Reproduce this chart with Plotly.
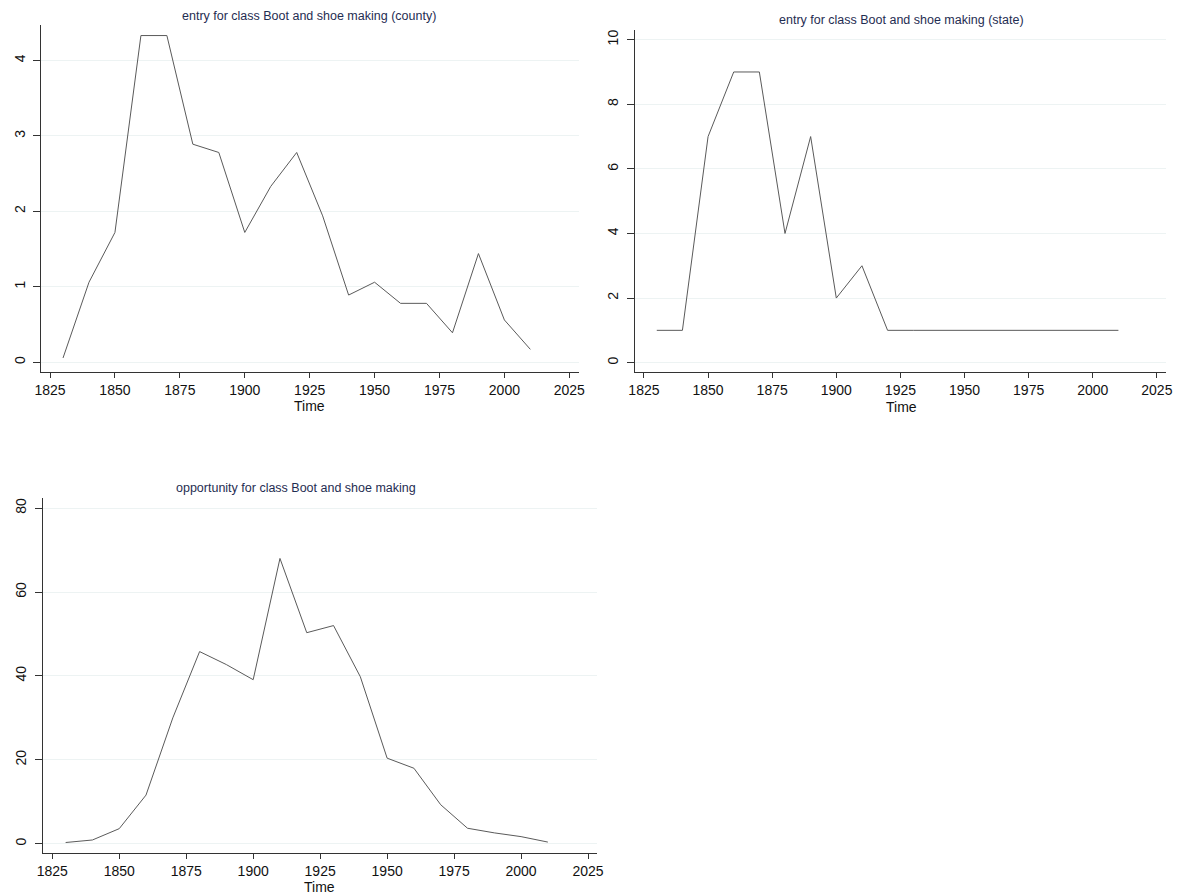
import plotly.graph_objects as go

# Census years shared by all three panels
years = [1830, 1840, 1850, 1860, 1870, 1880, 1890, 1900, 1910, 1920,
         1930, 1940, 1950, 1960, 1970, 1980, 1990, 2000, 2010]

# Entry into boot and shoe making, county level
entry_county = [0.056, 1.06, 1.72, 4.33, 4.33, 2.89, 2.78, 1.72, 2.33, 2.78,
                1.94, 0.89, 1.06, 0.78, 0.78, 0.39, 1.44, 0.56, 0.17]

# Entry into boot and shoe making, state level
entry_state = [1, 1, 7, 9, 9, 4, 7, 2, 3, 1,
               1, 1, 1, 1, 1, 1, 1, 1, 1]

# Opportunity for boot and shoe making
opportunity = [0.3, 0.9, 3.6, 11.6, 30.0, 45.8, 42.7, 39.1, 68.0, 50.3,
               52.0, 39.8, 20.4, 18.0, 9.3, 3.7, 2.6, 1.7, 0.4]

x_ticks = [1825, 1850, 1875, 1900, 1925, 1950, 1975, 2000, 2025]
county_ticks = [0, 1, 2, 3, 4]
state_ticks = [0, 2, 4, 6, 8, 10]
opp_ticks = [0, 20, 40, 60, 80]

titles = ["entry for class Boot and shoe making (county)",
          "entry for class Boot and shoe making (state)",
          "opportunity for class Boot and shoe making"]

W, H = 1182, 895
FONT = "Liberation Sans, Arial, sans-serif"
LINE = "#5a5a5a"
GRID = "#edf3f3"
AXIS = "#333333"
TITLE_COLOR = "#1f2d52"


def px_x(p):
    return p / W


def px_y(p):
    return 1 - p / H


fig = go.Figure()

panels = [
    # (series, yticks, yrange, x-domain px, y-domain px, xrange)
    (entry_county, county_ticks, [-0.13, 4.47], (34.6, 578), (25, 372), [1821.6, 2028.6]),
    (entry_state, state_ticks, [-0.29, 10.3], (634.7, 1172), (30, 372), [1821.4, 2028.6]),
    (opportunity, opp_ticks, [-2.2, 82.4], (36, 597), (498, 853), [1821.4, 2028.5]),
]

for i, (series, yt, yr, xd, yd, xr) in enumerate(panels):
    n = "" if i == 0 else str(i + 1)
    fig.add_trace(go.Scatter(
        x=years, y=series, mode="lines",
        line=dict(color=LINE, width=1),
        xaxis="x" + n, yaxis="y" + n, showlegend=False,
        hoverinfo="x+y",
    ))
    fig.layout["xaxis" + n] = dict(
        domain=[px_x(xd[0]), px_x(xd[1])],
        anchor="y" + n, range=xr,
        tickvals=x_ticks, ticktext=[str(v) for v in x_ticks],
        ticks="outside", ticklen=5, tickwidth=1, tickcolor=AXIS,
        showline=True, linecolor=AXIS, linewidth=1,
        showgrid=False, zeroline=False,
        tickfont=dict(family=FONT, size=14, color="#111111"),
        fixedrange=True,
    )
    fig.layout["yaxis" + n] = dict(
        domain=[px_y(yd[1]), px_y(yd[0])],
        anchor="x" + n, range=yr,
        tickvals=yt, ticktext=[str(v) for v in yt],
        ticks="outside", ticklen=7, tickwidth=1, tickcolor=AXIS,
        tickangle=-90, ticklabelstandoff=3,
        showline=True, linecolor=AXIS, linewidth=1,
        showgrid=True, gridcolor=GRID, gridwidth=1, zeroline=False,
        tickfont=dict(family=FONT, size=14, color="#111111"),
        fixedrange=True,
    )

# Panel titles and x-axis labels
title_pos = [(305, 16), (904, 20), (292, 488)]
time_pos = [(306, 406), (904, 407), (316, 886.5)]
annotations = []
for (tx, ty), text in zip(title_pos, titles):
    annotations.append(dict(
        x=px_x(tx), y=px_y(ty), xref="paper", yref="paper",
        text=text, showarrow=False, xanchor="center", yanchor="middle",
        font=dict(family=FONT, size=12.5, color=TITLE_COLOR),
    ))
for tx, ty in time_pos:
    annotations.append(dict(
        x=px_x(tx), y=px_y(ty), xref="paper", yref="paper",
        text="Time", showarrow=False, xanchor="center", yanchor="middle",
        font=dict(family=FONT, size=14, color="#111111"),
    ))

fig.update_layout(
    width=W, height=H,
    margin=dict(l=0, r=0, t=0, b=0),
    paper_bgcolor="white", plot_bgcolor="white",
    annotations=annotations,
    showlegend=False,
)

fig.write_html("out.html")
